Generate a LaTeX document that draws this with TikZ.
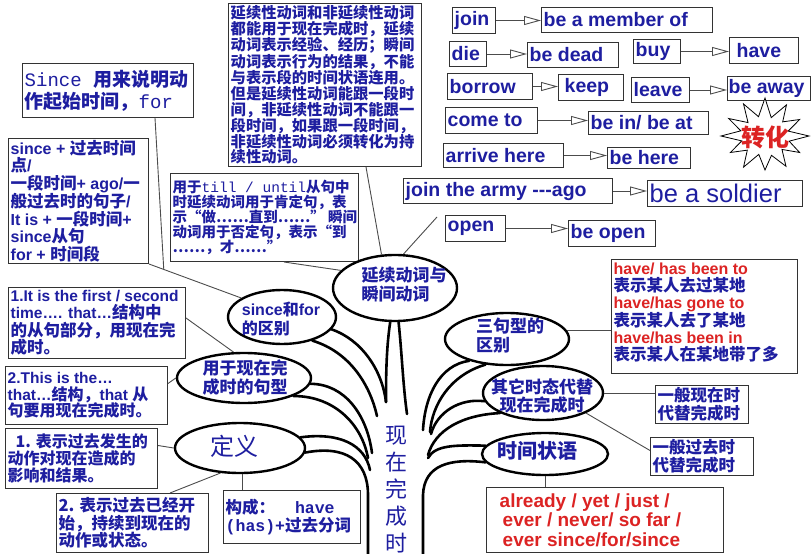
\documentclass[tikz,border=0pt]{standalone}
\usepackage{fontspec}
\setmainfont{Liberation Sans}
\newfontfamily\cjk{Noto Sans CJK SC}
\newfontfamily\mono{Liberation Mono}
\usetikzlibrary{shapes.geometric,arrows.meta,calc}
\definecolor{tb}{RGB}{30,30,160}
\definecolor{tr}{RGB}{220,35,35}
\newcommand\fs[2]{\fontsize{#1}{#2}\selectfont}
\def\csz{16}
\newcommand\C[1]{{\cjk\fontsize{\csz}{0}\selectfont #1}}
\newcommand\bx[7]{%
  \pgfmathsetmacro\bxw{#4-#2}\pgfmathsetmacro\bxh{#5-#3}%
  \node[bxr,minimum width=\bxw pt,minimum height=\bxh pt] (#1) at (#2,#3) {};%
  \node[btx,#6] (#1-t) at ([xshift=2.5pt]#1.west) {#7};}
\begin{document}
\begin{tikzpicture}[x=1pt,y=-1pt,
 bxr/.style={draw=black!80,line width=1pt,inner sep=0pt,anchor=north west},
 btx/.style={inner sep=0pt,align=left,text=tb,anchor=west},
 vb/.style={font=\bfseries\fs{19.5}{19.5}},
 ell/.style={ellipse,draw=black,line width=2.4pt,inner sep=0pt},
 etx/.style={text=tb,inner sep=0pt},
 conn/.style={draw=black!70,line width=0.9pt},
 br/.style={draw=black,line width=2.6pt,line cap=round},
 arr/.style={draw=black!70,line width=0.9pt,-{Triangle[open,length=17pt,width=9pt]}},
 starb/.style={draw=black,line width=0.8pt,fill=white}
 ]
\fill[white] (0,0) rectangle (811,554);
\useasboundingbox (0,0) rectangle (811,554);

% ---------- verb boxes ----------
\bx{join}{452}{7}{495}{33}{vb}{join}
\bx{member}{541}{7}{712}{32}{vb}{be a member of}
\bx{die}{449}{41}{486}{66}{vb}{die}
\bx{dead}{527}{42}{618}{67}{vb}{be dead}
\bx{buy}{633}{39}{680}{63}{vb}{buy}
\bx{have}{729}{37}{798}{63}{vb,xshift=5pt}{have}
\bx{borrow}{447}{73}{532}{99}{vb}{borrow}
\bx{keep}{558}{74}{623}{100}{vb,xshift=4pt}{keep}
\bx{leave}{631}{77}{689}{102}{vb}{leave}
\bx{away}{727}{76}{810}{100}{vb,xshift=-1pt}{be away}
\bx{cometo}{445}{107}{537}{133}{vb}{come to}
\bx{beinat}{588}{111}{708}{134}{vb}{be in/ be at}
\bx{arrive}{443}{143}{563}{167}{vb}{arrive here}
\bx{behere}{607}{147}{690}{168}{vb}{be here}
\bx{army}{403}{178}{612}{203}{vb}{join the army -{}-{}-ago}
\bx{soldier}{647}{180}{802}{206}{font=\fs{25.5}{25.5}}{be a soldier}
\bx{open}{445}{215}{505}{241}{vb}{open}
\bx{beopen}{568}{220}{655}{246}{vb}{be open}

\foreach \p/\q in {join/member,die/dead,buy/have,borrow/keep,leave/away,cometo/beinat,arrive/behere,army/soldier,open/beopen}
  \draw[arr] (\p.east) -- (\p.east -| \q.west);

% ---------- star ----------
\begin{scope}[shift={(765,136)}]
\draw[starb] (0:44 and 36) -- (15:25 and 20) -- (30:40 and 33) -- (45:24 and 19) -- (60:42 and 35) -- (75:25 and 20) -- (90:38 and 34) -- (105:24 and 19) -- (120:43 and 36) -- (135:25 and 20) -- (150:40 and 33) -- (165:24 and 19) -- (180:44 and 36) -- (195:25 and 20) -- (210:42 and 35) -- (225:24 and 19) -- (240:43 and 37) -- (255:25 and 20) -- (270:40 and 38) -- (285:24 and 19) -- (300:43 and 36) -- (315:25 and 20) -- (330:40 and 33) -- (345:24 and 19) -- cycle;
\end{scope}
\node[text=tr,inner sep=0pt,font=\cjk\bfseries\fs{24}{24}] (zh) at (765,137) {转化};

% ---------- text boxes ----------
\bx{big}{228}{3}{421}{166}{font=\cjk\bfseries\fs{15.3}{15.9}}{延续性动词和非延续性动词\\都能用于现在完成时，延续\\动词表示经验、经历；瞬间\\动词表示行为的结果，不能\\与表示段的时间状语连用。\\但是延续性动词能跟一段时\\间，非延续性动词不能跟一\\段时间，如果跟一段时间，\\非延续性动词必须转化为持\\续性动词。}

\bx{since}{22}{63}{193}{117}{font=\cjk\bfseries\fs{19}{22}}{{\mono\mdseries Since }用来说明动\\作起始时间，{\mono\mdseries for}}

\bx{b2}{8}{138}{148}{263}{font=\bfseries\fs{16}{17.5}\def\csz{16.5}}{since + \C{过去时间}\\\C{点}/\\\C{一段时间}+ ago/\C{一}\\\C{般过去时的句子}/\\It is + \C{一段时间}+\\since\C{从句}\\for + \C{时间段}}

\bx{till}{170}{173}{358}{261}{font=\cjk\bfseries\fs{14.5}{15.2}}{用于{\mono\mdseries till / until}从句中\\时延续动词用于肯定句，表\\示“做……直到……” 瞬间\\动词用于否定句，表示“到\\……，才……”}

\bx{b1It}{8}{287}{185}{358}{font=\bfseries\fs{15.5}{17.5}\def\csz{16.5}}{1.It is the first / second\\time…. that…\C{结构中}\\\C{的从句部分，用现在完}\\\C{成时。}}

\bx{b2This}{5}{366}{167}{424}{font=\bfseries\fs{15.5}{16.7}\def\csz{16}}{2.This is the…\\that…\C{结构，}that \C{从}\\\C{句要用现在完成时。}}

\bx{b1Def}{5}{428}{157}{488}{font=\cjk\bfseries\fs{16}{16.8}}{\hspace*{8pt}1. 表示过去发生的\\动作对现在造成的\\影响和结果。}

\bx{b2Def}{56}{493}{208}{552}{font=\cjk\bfseries\fs{16.5}{17.5}}{2. 表示过去已经开\\始，持续到现在的\\动作或状态。}

\bx{gouc}{223}{490}{360}{543}{font=\cjk\bfseries\fs{16.5}{18}}{构成：{\mono\ \ have}\\{\mono (has)+}过去分词}

\bx{hh}{611}{259}{797}{373}{font=\bfseries\fs{16}{17}\def\csz{16.5},yshift=4pt}{\textcolor{tr}{have/ has been to}\\\C{表示某人去过某地}\\\textcolor{tr}{have/has gone to}\\\C{表示某人去了某地}\\\textcolor{tr}{have/has been in}\\\C{表示某人在某地带了多}}

\bx{xz}{655}{385}{748}{423}{font=\cjk\bfseries\fs{16.5}{18}}{一般现在时\\代替完成时}
\bx{gq}{650}{437}{753}{475}{font=\cjk\bfseries\fs{16.5}{18}}{一般过去时\\代替完成时}

\bx{already}{486}{487}{723}{552}{font=\bfseries\fs{19}{19.5},text=tr,xshift=11pt}{already / yet / just /\\\hspace*{3pt}ever / never/ so far /\\\hspace*{3pt}ever since/for/since}

% ---------- ellipses ----------
\node[ell,minimum width=124pt,minimum height=66pt] (yx) at (395,288) {};
\node[etx,align=left,font=\cjk\bfseries\fs{17}{19}] (yx-t) at (404,285) {延续动词与\\瞬间动词};
\node[ell,minimum width=108pt,minimum height=54pt] (sf) at (282,317) {};
\node[etx,align=left,font=\bfseries\fs{16}{19}\def\csz{16}] (sf-t) at (281,319) {since\C{和}for\\\C{的区别}};
\node[ell,minimum width=134pt,minimum height=50pt] (jx) at (244,378) {};
\node[etx,align=left,font=\cjk\bfseries\fs{17}{19}] (jx-t) at (245,378) {用于现在完\\成时的句型};
\node[ell,minimum width=130pt,minimum height=50pt] (dy) at (240,448) {};
\node[etx,font=\cjk\fs{24}{24}] (dy-t) at (234,446) {定义};
\node[ell,minimum width=124pt,minimum height=52pt] (sx) at (507,339) {};
\node[etx,align=left,font=\cjk\bfseries\fs{17}{19}] (sx-t) at (510,336) {三句型的\\区别};
\node[ell,minimum width=120pt,minimum height=54pt] (qx) at (543,393) {};
\node[etx,align=center,font=\cjk\bfseries\fs{17}{18.5}] (qx-t) at (542,396) {其它时态代替\\现在完成时};
\node[ell,minimum width=126pt,minimum height=42pt] (tx) at (545,454) {};
\node[etx,font=\cjk\bfseries\fs{20}{20}] (tx-t) at (537,451) {时间状语};
\node[etx,align=center,font=\cjk\fs{22}{27}] (tk) at (396,490) {现\\在\\完\\成\\时};

% ---------- tree branches ----------
\draw[br] (sf.-14) .. controls (362,340) and (382,370) .. (386,402);
\draw[br] (sf.-38) .. controls (350,352) and (370,385) .. (377,416);
\draw[br] (yx.-98) .. controls (386,350) and (386,380) .. (386,402);
\draw[br] (yx.-84) .. controls (402,355) and (403,385) .. (407,414);
\draw[br] (jx.-5) .. controls (345,384) and (367,415) .. (372,453);
\draw[br] (jx.-20) .. controls (335,396) and (362,425) .. (368,458);
\draw[br] (dy.10) .. controls (340,432) and (365,445) .. (370,470);
\draw[br] (dy.-4) .. controls (345,445) and (368,460) .. (368,495) -- (368,554);
\draw[br] (sx.-150) .. controls (440,365) and (425,395) .. (423,430);
\draw[br] (sx.-130) .. controls (450,375) and (432,405) .. (430,432);
\draw[br] (qx.-172) .. controls (460,398) and (437,412) .. (431,434);
\draw[br] (qx.-155) .. controls (462,415) and (435,430) .. (428,455);
\draw[br] (tx.172) .. controls (455,445) and (435,445) .. (428,458);
\draw[br] (tx.-172) .. controls (450,458) and (424,465) .. (423,495) -- (423,554);

% ---------- connectors ----------
\coordinate (j1) at ($(b2.south east)!0.16!(sf.155)$);
\draw[conn] ([xshift=-39pt]since.south east) -- (j1);
\draw[conn] (b2.south east) -- (sf.155);
\draw[conn] ([xshift=-75pt]till.south east) -- (yx.162);
\draw[conn] ([xshift=-56pt]big.south east) -- (yx.112);
\coordinate (vg) at (437,217);
\draw[conn] (vg) -- (yx.76);
\draw[conn] ([yshift=5pt]b1It.east) -- (jx.112);
\draw[conn] ([yshift=12pt]b2This.east) -- (jx.west);
\draw[conn] ([yshift=13pt]b1Def.east) -- (dy.west);
\draw[conn] (dy.-128) -- ([xshift=114pt]b2Def.north west);
\draw[conn] (dy.-84) -- (dy.-84 |- gouc.north);
\draw[conn] (sx.8) -- (sx.8 -| hh.west);
\draw[conn] (qx.east) -- (qx.east -| xz.west);
\draw[conn] (qx.-25) -- ([yshift=6pt]gq.west);
\draw[conn] (tx.south) -- (tx.south |- already.north);
\end{tikzpicture}
\end{document}
